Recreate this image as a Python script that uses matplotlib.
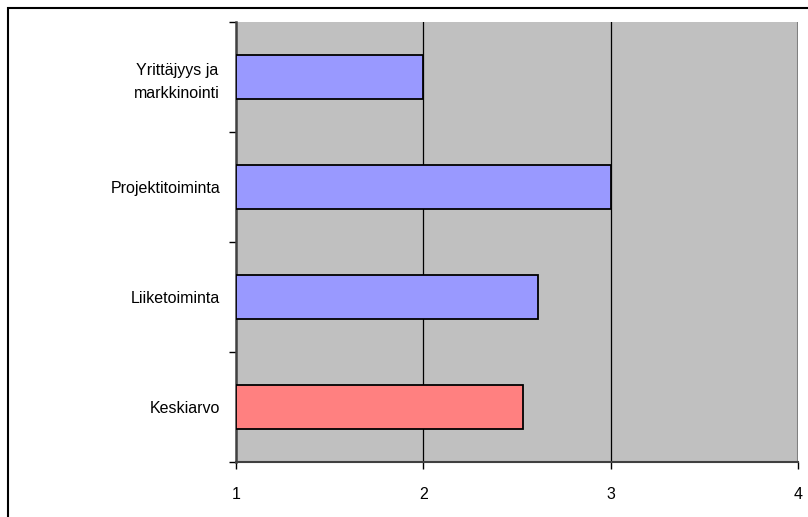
import matplotlib
matplotlib.use("Agg")
import matplotlib.pyplot as plt
from matplotlib.patches import Rectangle
import numpy as np

plt.rcParams['font.family'] = ['Liberation Sans', 'DejaVu Sans']

categories = ["Yrittäjyys ja\nmarkkinointi", "Projektitoiminta", "Liiketoiminta", "Keskiarvo"]
values = [2.0, 3.0, 2.61, 2.53]
bar_colors = ["#9999ff", "#9999ff", "#9999ff", "#ff8080"]
xticks = [1, 2, 3, 4]

fig = plt.figure(figsize=(8.08, 5.17), dpi=100)
ax = fig.add_axes([236 / 808, 55 / 517, 562 / 808, 440 / 517])
ax.set_facecolor("#c0c0c0")

# outer chart frame (cut off at right and bottom like the original)
fig.patches.append(Rectangle((7.5 / 808, -0.1), 1.2, 1 - 7.5 / 517 + 0.1,
                             transform=fig.transFigure, fill=False,
                             edgecolor="black", linewidth=1.5, zorder=0))

y = np.arange(len(categories))
ax.barh(y, [v - 1 for v in values], left=1, height=0.4, color=bar_colors,
        edgecolor="black", linewidth=1.3, zorder=3)

ax.set_xlim(1, 4)
ax.set_ylim(len(categories) - 0.5, -0.5)
ax.set_xticks(xticks)
ax.set_xticklabels([str(t) for t in xticks], fontsize=11.5)
for t in xticks[1:-1]:
    ax.axvline(t, color="black", linewidth=0.9, zorder=1)
ax.axvline(4, color="#808080", linewidth=1.5, zorder=1)

ax.set_yticks(y)
ax.set_yticklabels(categories, fontsize=11.5, multialignment="center",
                   linespacing=1.6)
ax.set_yticks(np.arange(-0.5, len(categories), 1), minor=True)
ax.tick_params(axis="y", which="major", length=0, pad=11.5)
ax.tick_params(axis="y", which="minor", length=5, width=1, direction="out")
ax.tick_params(axis="x", length=5, width=1, direction="out", pad=13)

for s in ["top", "right"]:
    ax.spines[s].set_visible(False)
ax.spines["left"].set_color("#404040")
ax.spines["left"].set_linewidth(1.8)
ax.spines["bottom"].set_color("#404040")
ax.spines["bottom"].set_linewidth(1.5)

fig.savefig("out.png", dpi=100)
